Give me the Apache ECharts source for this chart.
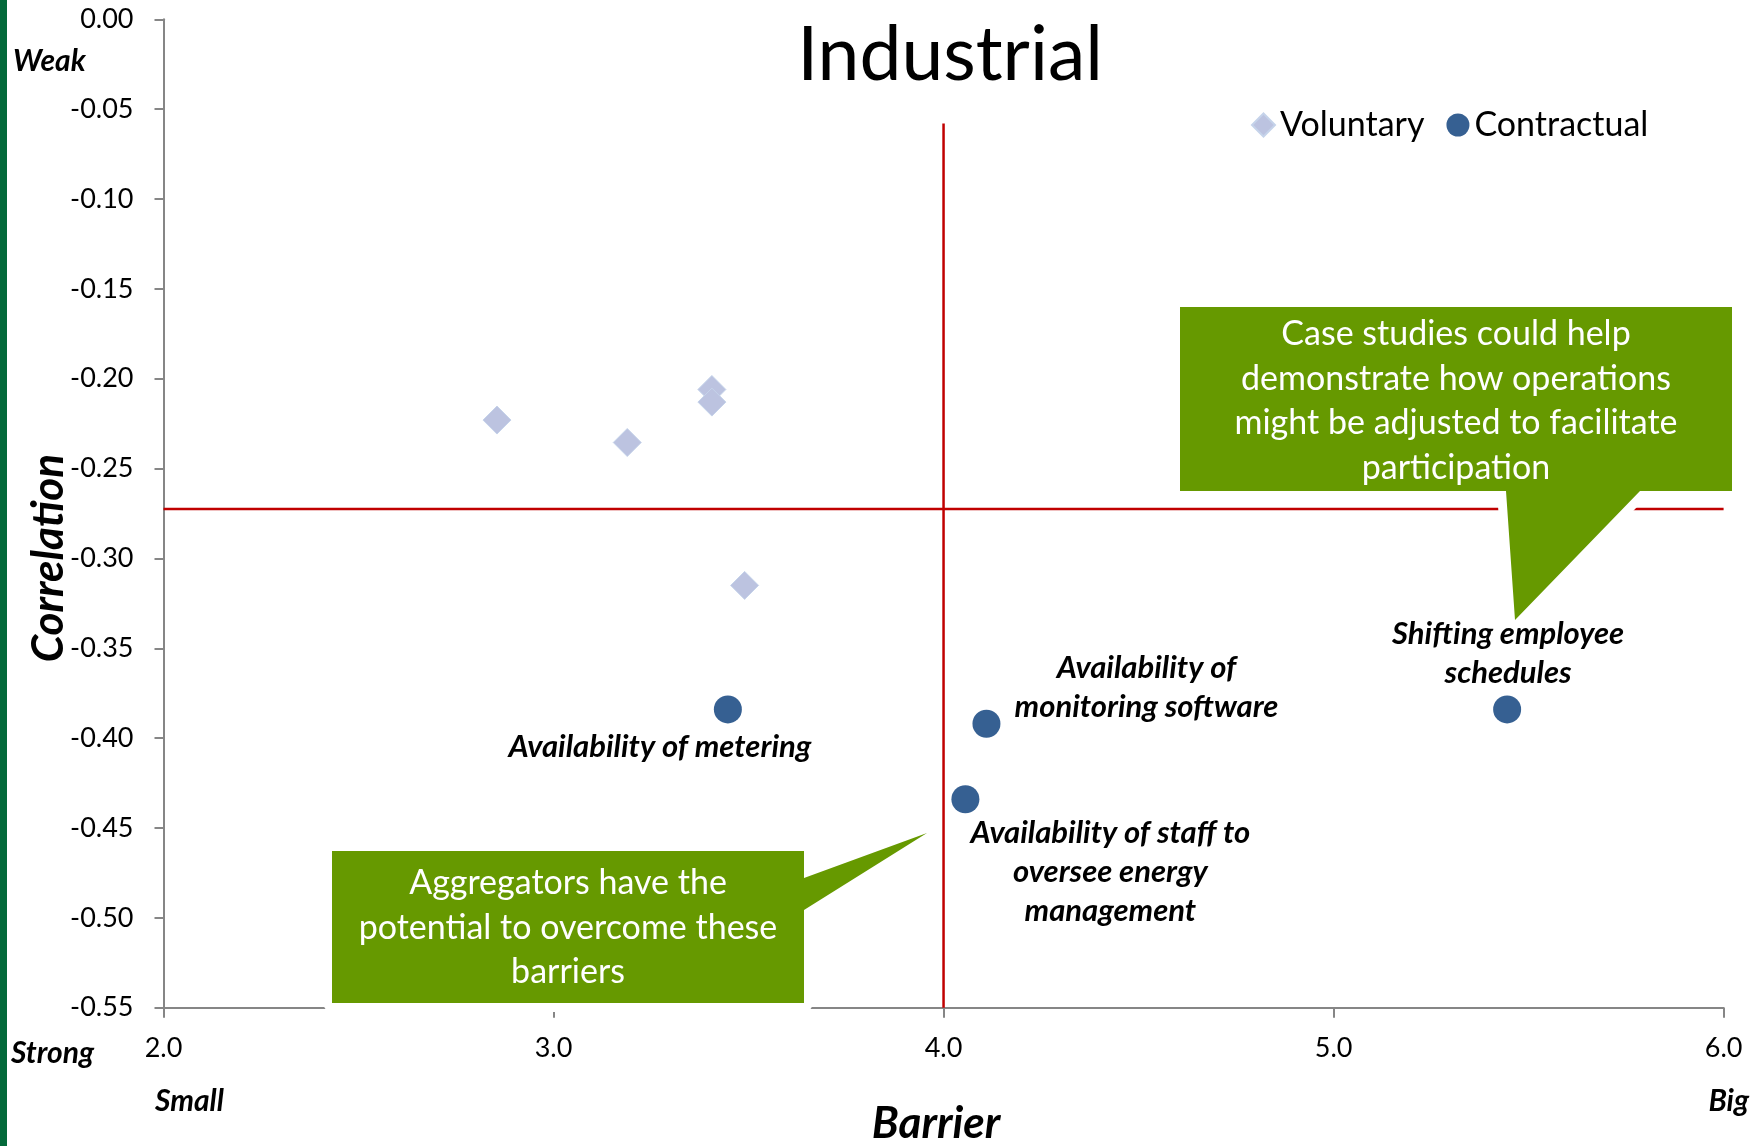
<!DOCTYPE html>
<html>
<head>
<meta charset="utf-8">
<script src="https://cdn.jsdelivr.net/npm/echarts@6/dist/echarts.min.js"></script>
<style>
  html, body { margin: 0; padding: 0; background: #fff; }
  #chart { width: 1760px; height: 1146px; }
</style>
</head>
<body>
<div id="chart"></div>
<script>
// Barrier (x) vs correlation (y) for industrial customers
const voluntaryBarrier = [2.855, 3.189, 3.406, 3.406, 3.490];
const voluntaryCorrelation = [-0.223, -0.2355, -0.206, -0.213, -0.315];

const contractualNames = [
  'Availability of metering',
  'Availability of\nmonitoring software',
  'Availability of staff to\noversee energy\nmanagement',
  'Shifting employee\nschedules'
];
const contractualBarrier = [3.447, 4.110, 4.056, 5.445];
const contractualCorrelation = [-0.384, -0.392, -0.434, -0.384];

// Reference lines: mean correlation and barrier midpoint
const meanCorrelation = -0.2725;
const midBarrier = 4.0;
const midLineTop = -0.058;

const xTicks = { min: 2, max: 6, step: 1 };
const yTicks = { min: -0.55, max: 0, step: 0.05 };

const callouts = [
  'Aggregators have the\npotential to overcome these\nbarriers',
  'Case studies could help\ndemonstrate how operations\nmight be adjusted to facilitate\nparticipation'
];

// label placement relative to each contractual point (px)
const labelOffsets = [[-68, 38], [160, -36], [145, 73], [1, -56]];

const GREEN = '#669900';
const FONT = 'Lato, "Open Sans", sans-serif';

const chart = echarts.init(document.getElementById('chart'), null, { renderer: 'canvas' });

function calloutShapes(points, textX, textY, text) {
  return [
    {
      type: 'polygon', z: 100, silent: true,
      shape: { points: points },
      style: { fill: '#fff', stroke: '#fff', lineWidth: 18, lineJoin: 'round' }
    },
    {
      type: 'polygon', z: 101, silent: true,
      shape: { points: points },
      style: { fill: GREEN }
    },
    {
      type: 'text', z: 102, silent: true, x: textX, y: textY,
      style: {
        text: text, fill: '#fff', font: '34px ' + FONT, lineHeight: 44.5,
        align: 'center', verticalAlign: 'middle'
      }
    }
  ];
}

const option = {
  backgroundColor: '#fff',
  animation: false,
  grid: { left: 163.5, right: 36.4, top: 19.3, bottom: 138.3, containLabel: false },
  legend: {
    left: 1246, top: 103,
    itemWidth: 23, itemHeight: 23, itemGap: 22,
    textStyle: { fontFamily: FONT, fontSize: 34, color: '#000' },
    data: [
      { name: 'Voluntary', icon: 'diamond' },
      { name: 'Contractual', icon: 'circle' }
    ]
  },
  xAxis: {
    type: 'value', min: xTicks.min, max: xTicks.max, interval: xTicks.step,
    axisLine: { onZero: false, lineStyle: { color: '#868686', width: 2 } },
    axisTick: { show: true, length: 10, inside: false, lineStyle: { color: '#868686', width: 2 } },
    axisLabel: { margin: 27, fontFamily: FONT, fontSize: 27, color: '#000', formatter: v => v.toFixed(1) },
    splitLine: { show: false }
  },
  yAxis: {
    type: 'value', min: yTicks.min, max: yTicks.max, interval: yTicks.step,
    axisLine: { onZero: false, lineStyle: { color: '#868686', width: 2 } },
    axisTick: { show: true, length: 9, inside: false, lineStyle: { color: '#868686', width: 2 } },
    axisLabel: { margin: 30, fontFamily: FONT, fontSize: 27, color: '#000', formatter: v => v.toFixed(2) },
    splitLine: { show: false }
  },
  series: [
    {
      name: 'mean', type: 'line', silent: true, symbol: 'none', z: 1,
      lineStyle: { color: '#C00000', width: 2.5 },
      data: [[xTicks.min, meanCorrelation], [xTicks.max, meanCorrelation]]
    },
    {
      name: 'mid', type: 'line', silent: true, symbol: 'none', z: 1,
      lineStyle: { color: '#C00000', width: 2.5 },
      data: [[midBarrier, midLineTop], [midBarrier, yTicks.min]]
    },
    {
      name: 'Voluntary', type: 'scatter', symbol: 'diamond', symbolSize: 28, z: 3,
      itemStyle: { color: '#BCC3E0', borderColor: '#C5D3EA', borderWidth: 1, opacity: 1 },
      data: voluntaryBarrier.map((x, i) => [x, voluntaryCorrelation[i]])
    },
    {
      name: 'Contractual', type: 'scatter', symbol: 'circle', symbolSize: 28, z: 3,
      itemStyle: { color: '#366092', opacity: 1 },
      data: contractualBarrier.map((x, i) => ({
        value: [x, contractualCorrelation[i]],
        name: contractualNames[i],
        label: {
          show: true, position: 'inside', offset: labelOffsets[i],
          formatter: '{b}', align: 'center', verticalAlign: 'middle',
          fontFamily: FONT, fontSize: 31, fontWeight: 'bold', fontStyle: 'italic',
          color: '#000', lineHeight: 39,
          textBorderWidth: 0, textBorderColor: 'transparent', opacity: 1
        }
      }))
    }
  ],
  graphic: [
    // left accent bar
    { type: 'rect', z: 50, silent: true, shape: { x: 0, y: 0, width: 7, height: 1146 }, style: { fill: '#03693A' } },
    {
      type: 'text', z: 50, x: 950, y: 56, silent: true,
      style: { text: 'Industrial', font: '75px ' + FONT, fill: '#000', align: 'center', verticalAlign: 'middle' }
    },
    {
      type: 'text', z: 50, x: 13, y: 61, silent: true,
      style: { text: 'Weak', font: 'italic bold 30px ' + FONT, fill: '#000', align: 'left', verticalAlign: 'middle' }
    },
    {
      type: 'text', z: 50, x: 11, y: 1053, silent: true,
      style: { text: 'Strong', font: 'italic bold 30px ' + FONT, fill: '#000', align: 'left', verticalAlign: 'middle' }
    },
    {
      type: 'text', z: 50, x: 155, y: 1101, silent: true,
      style: { text: 'Small', font: 'italic bold 30px ' + FONT, fill: '#000', align: 'left', verticalAlign: 'middle' }
    },
    {
      type: 'text', z: 50, x: 1749, y: 1101, silent: true,
      style: { text: 'Big', font: 'italic bold 30px ' + FONT, fill: '#000', align: 'right', verticalAlign: 'middle' }
    },
    {
      type: 'text', z: 50, x: 936, y: 1124, silent: true,
      style: { text: 'Barrier', font: 'italic bold 44px ' + FONT, fill: '#000', align: 'center', verticalAlign: 'middle' }
    },
    {
      type: 'text', z: 50, x: 49, y: 558, rotation: Math.PI / 2, silent: true,
      style: { text: 'Correlation', font: 'italic bold 44px ' + FONT, fill: '#000', align: 'center', verticalAlign: 'middle' }
    },
    ...calloutShapes(
      [[332, 851], [804, 851], [804, 878], [927, 833], [804, 910], [804, 1003], [332, 1003]],
      568, 928, callouts[0]
    ),
    ...calloutShapes(
      [[1180, 307], [1732, 307], [1732, 491], [1640, 491], [1515, 620], [1506, 491], [1180, 491]],
      1456, 401, callouts[1]
    )
  ]
};

chart.setOption(option);
</script>
</body>
</html>
